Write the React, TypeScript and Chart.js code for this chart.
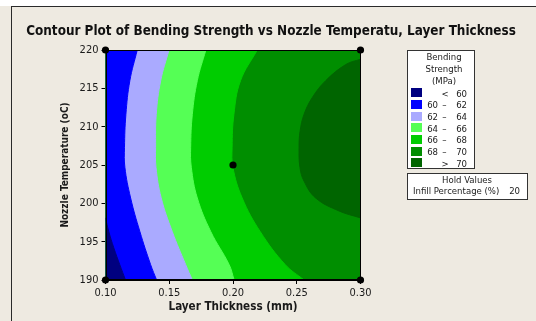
import React, { useEffect, useRef } from "react";
import { Chart, registerables } from "chart.js";

Chart.register(...registerables);

// ---------- data ----------
const chartTitle = "Contour Plot of Bending Strength vs Nozzle Temperatu, Layer Thickness";
const xTitle = "Layer Thickness (mm)";
const yTitle = "Nozzle Temperature (oC)";
const xTicks = [0.1, 0.15, 0.2, 0.25, 0.3];
const yTicks = [190, 195, 200, 205, 210, 215, 220];

const legendTitle = ["Bending", "Strength", "(MPa)"];
const bandLow: (number | null)[] = [null, 60, 62, 64, 66, 68, 70];
const bandHigh: (number | null)[] = [60, 62, 64, 66, 68, 70, null];
const bandColors = ["#000080", "#0000FF", "#AAAAFF", "#55FF55", "#00CC00", "#008E00", "#006500"];

// contour lines (x = layer thickness at each temperature)
const curveTemps = [220, 216, 211.6, 207.3, 204.7, 200.7, 196.3, 192, 190];
const curve62 = [0.1249, 0.1191, 0.116, 0.1149, 0.1152, 0.1197, 0.127, 0.1354, 0.1401];
const curve64 = [0.1498, 0.1433, 0.1398, 0.1393, 0.1396, 0.1437, 0.1524, 0.1629, 0.1681];
const curve66 = [0.1787, 0.172, 0.1681, 0.1668, 0.1673, 0.172, 0.1826, 0.197, 0.2009];
const curve68 = [0.219, 0.2059, 0.2007, 0.1993, 0.1999, 0.2072, 0.2214, 0.241, 0.2557];
const curve60Temps = [198.1, 196.3, 194.2, 192, 190];
const curve60 = [0.1, 0.1026, 0.1065, 0.1112, 0.1157];
const curve70Temps = [218.8, 218.1, 216, 213.8, 211.6, 209.4, 207.3, 204.7, 202.9, 200.7, 199, 198.1];
const curve70 = [0.3, 0.2884, 0.2727, 0.2622, 0.2557, 0.2526, 0.2518, 0.2525, 0.2557, 0.2648, 0.2832, 0.3];

const designX = [0.1, 0.1, 0.3, 0.3, 0.2];
const designY = [190, 220, 190, 220, 205];

const holdTitle = "Hold Values";
const holdName = "Infill Percentage (%)";
const holdValue = 20;

// ---------- styling ----------
const BG = "#EEEAE1";
const FONT = "'DejaVu Sans Condensed', 'DejaVu Sans', sans-serif";
const LEG = 9.5;

const zip = (xs: number[], ys: number[]) => xs.map((x, i) => ({ x, y: ys[i] }));

function fillDataset(xs: number[], ys: number[], color: string, edge: number, order: number) {
  return {
    type: "line" as const,
    data: zip(xs, ys),
    indexAxis: "y" as const,
    fill: { value: edge },
    backgroundColor: color,
    borderColor: color,
    borderWidth: 1,
    pointRadius: 0,
    tension: 0.4,
    order,
  };
}

export default function App() {
  const ref = useRef<HTMLCanvasElement | null>(null);

  useEffect(() => {
    if (!ref.current) return;
    const xMin = xTicks[0];
    const xMax = xTicks[xTicks.length - 1];
    const plotBg = {
      id: "plotBg",
      beforeDatasetsDraw(chart: any) {
        const { ctx, chartArea: a } = chart;
        ctx.save();
        ctx.fillStyle = bandColors[5];
        ctx.fillRect(a.left, a.top, a.right - a.left, a.bottom - a.top);
        ctx.restore();
      },
    };
    const frame = {
      id: "frame",
      afterDatasetsDraw(chart: any) {
        const { ctx, chartArea: a } = chart;
        ctx.save();
        ctx.strokeStyle = "#000";
        ctx.lineWidth = 1;
        ctx.strokeRect(Math.round(a.left) + 0.5, Math.round(a.top) + 0.5, Math.round(a.right - a.left) - 1, Math.round(a.bottom - a.top) - 1);
        ctx.restore();
      },
    };
    const chart = new Chart(ref.current, {
      type: "line",
      data: {
        datasets: [
          {
            type: "scatter" as const,
            data: zip(designX, designY),
            pointRadius: 3.6,
            pointBackgroundColor: "#000",
            pointBorderWidth: 0,
            showLine: false,
            clip: false,
            order: 0,
          } as any,
          fillDataset(curve60, curve60Temps, bandColors[0], xMin, 1),
          fillDataset(curve62, curveTemps, bandColors[1], xMin, 2),
          fillDataset(curve64, curveTemps, bandColors[2], xMin, 3),
          fillDataset(curve66, curveTemps, bandColors[3], xMin, 4),
          fillDataset(curve68, curveTemps, bandColors[4], xMin, 5),
          fillDataset(curve70, curve70Temps, bandColors[6], xMax, 6),
        ],
      },
      options: {
        animation: false,
        responsive: false,
        devicePixelRatio: 1,
        indexAxis: "y",
        layout: { padding: { left: 0, top: 50, right: 175.5, bottom: 0 } },
        plugins: { legend: { display: false }, tooltip: { enabled: false }, title: { display: false } },
        scales: {
          x: {
            type: "linear",
            min: xMin,
            max: xMax,
            afterBuildTicks: (s: any) => {
              s.ticks = xTicks.map((value) => ({ value }));
            },
            afterFit: (s: any) => {
              s.height = 41;
            },
            ticks: {
              callback: (v: any) => Number(v).toFixed(2),
              color: "#1a1a1a",
              font: { family: FONT, size: 11 },
              padding: 3,
              maxRotation: 0,
            },
            grid: { drawOnChartArea: false, tickLength: 4, color: "#000" },
            border: { color: "#000" },
            title: {
              display: true,
              text: xTitle,
              color: "#1a1a1a",
              font: { family: FONT, size: 11.6, weight: "bold" },
              padding: { top: 0, bottom: 7.0 },
            },
          },
          y: {
            type: "linear",
            min: yTicks[0],
            max: yTicks[yTicks.length - 1],
            afterBuildTicks: (s: any) => {
              s.ticks = yTicks.map((value) => ({ value }));
            },
            afterFit: (s: any) => {
              s.width = 105.5;
            },
            ticks: {
              color: "#1a1a1a",
              font: { family: FONT, size: 11 },
              padding: 3,
            },
            grid: { drawOnChartArea: false, tickLength: 4, color: "#000" },
            border: { color: "#000" },
            title: {
              display: true,
              text: yTitle,
              color: "#1a1a1a",
              font: { family: FONT, size: 10, weight: "bold" },
              padding: { top: 59, bottom: 0 },
            },
          },
        },
      },
      plugins: [plotBg, frame],
    } as any);
    return () => chart.destroy();
  }, []);

  const swTop0 = 88.3;
  const rowGap = 11.67;
  const txt = { position: "absolute" as const, fontSize: LEG, lineHeight: "11px", color: "#222", whiteSpace: "nowrap" as const };

  return (
    <div style={{ position: "fixed", left: 0, top: 0, width: 536, height: 321, background: BG, overflow: "hidden", fontFamily: FONT }}>
      <div style={{ position: "absolute", left: 0, top: 0, width: 536, height: 6, background: "#fff" }} />
      <div style={{ position: "absolute", left: 11, top: 6, width: 700, height: 500, borderLeft: "1px solid #2a2a2a", borderTop: "1px solid #2a2a2a" }} />
      <canvas ref={ref} width={536} height={321} style={{ position: "absolute", left: 0, top: 0, width: 536, height: 321 }} />
      <div style={{ position: "absolute", left: 0, width: 542, top: 22.5, textAlign: "center", fontWeight: "bold", fontSize: 13.4, lineHeight: "15px", color: "#111", whiteSpace: "nowrap" }}>
        {chartTitle}
      </div>
      {/* legend */}
      <div style={{ position: "absolute", left: 406.5, top: 50, width: 68.5, height: 118.5, background: "#fff", border: "1px solid #333", boxSizing: "border-box" }} />
      {legendTitle.map((t, i) => (
        <div key={t} style={{ ...txt, left: 406.5, width: 75, top: 51 + i * 12, textAlign: "center" }}>
          {t}
        </div>
      ))}
      {bandColors.map((c, i) => {
        const top = swTop0 + i * rowGap;
        const lo = bandLow[i];
        const hi = bandHigh[i];
        return (
          <React.Fragment key={c}>
            <div style={{ position: "absolute", left: 411, top, width: 11, height: 9, background: c }} />
            {lo !== null && hi !== null ? (
              <>
                <div style={{ ...txt, left: 418, width: 20, top: top - 0.5, textAlign: "right" }}>{lo}</div>
                <div style={{ ...txt, left: 439.5, width: 10, top: top - 0.5, textAlign: "center" }}>–</div>
                <div style={{ ...txt, left: 447, width: 20, top: top - 0.5, textAlign: "right" }}>{hi}</div>
              </>
            ) : (
              <>
                <div style={{ ...txt, left: 440, width: 10, top: top - 0.5, textAlign: "center" }}>{lo === null ? "<" : ">"}</div>
                <div style={{ ...txt, left: 447, width: 20, top: top - 0.5, textAlign: "right" }}>{lo === null ? hi : lo}</div>
              </>
            )}
          </React.Fragment>
        );
      })}
      {/* hold values */}
      <div style={{ position: "absolute", left: 406.5, top: 172.5, width: 121, height: 27, background: "#fff", border: "1px solid #333", boxSizing: "border-box" }} />
      <div style={{ ...txt, left: 406.5, width: 121, top: 174, textAlign: "center" }}>{holdTitle}</div>
      <div style={{ ...txt, left: 413, top: 185 }}>{holdName}</div>
      <div style={{ ...txt, left: 500, width: 20, top: 185, textAlign: "right" }}>{holdValue}</div>
    </div>
  );
}
